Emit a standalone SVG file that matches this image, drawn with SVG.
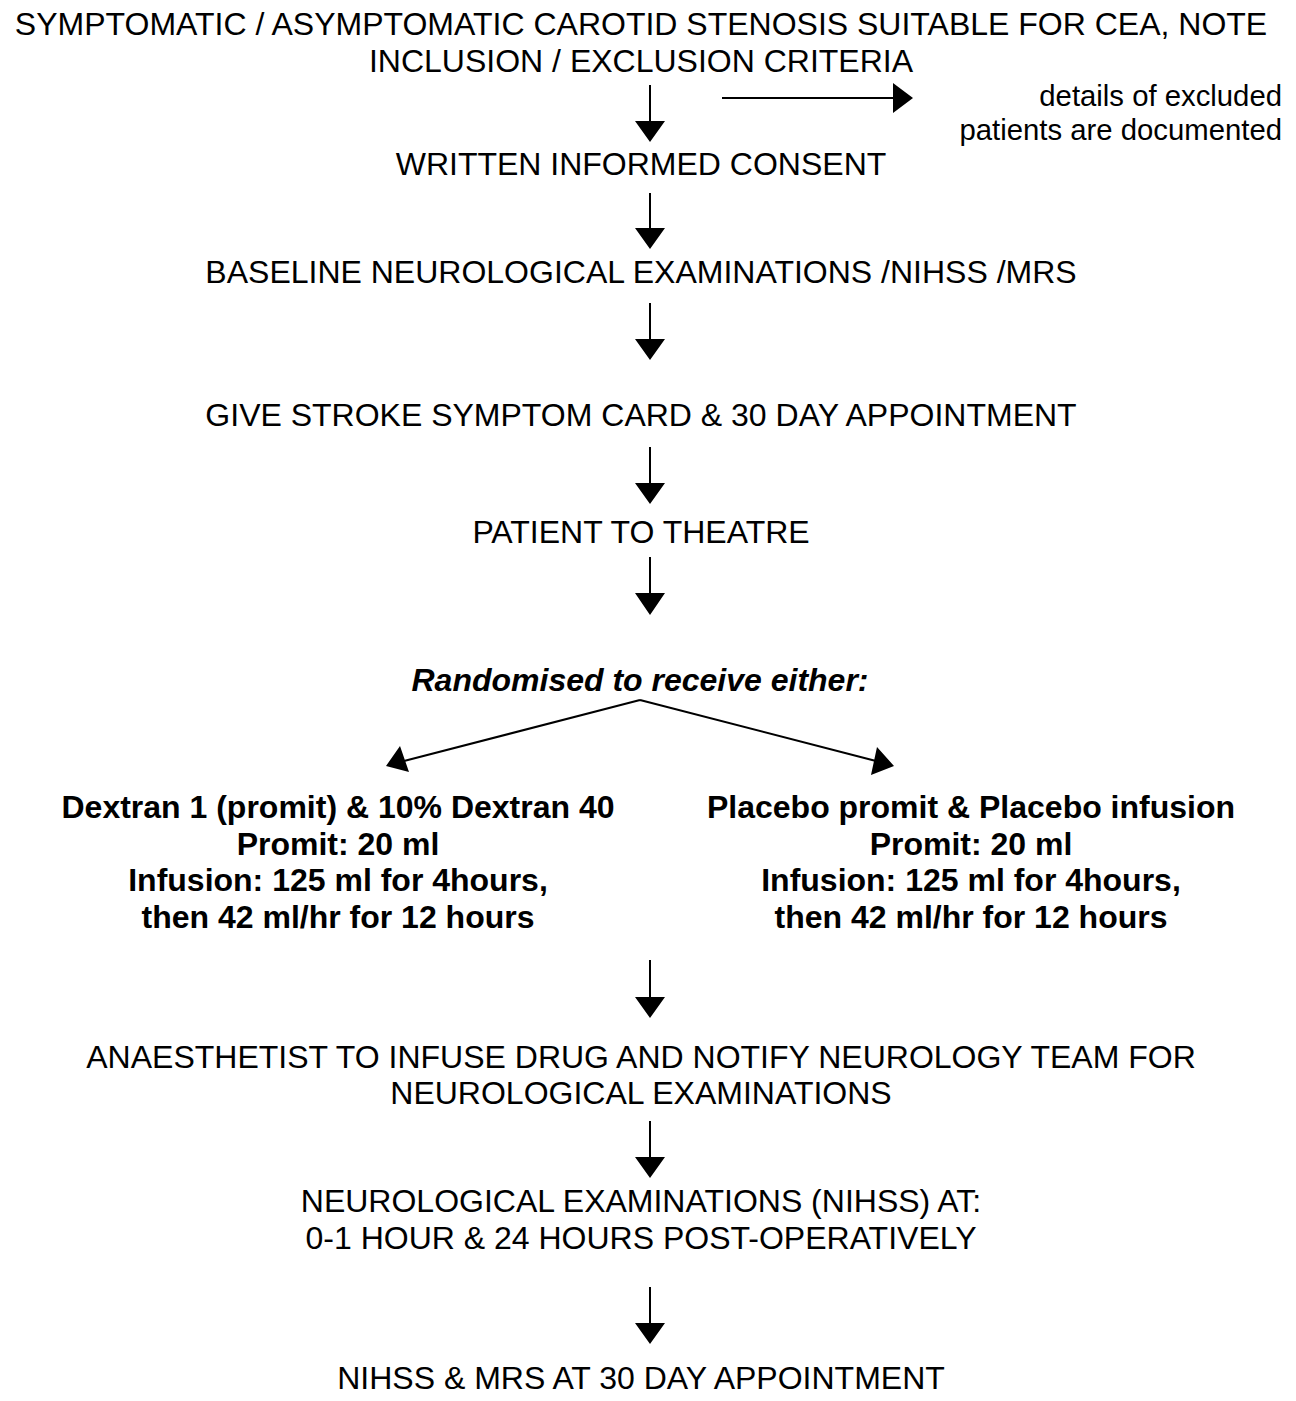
<svg xmlns="http://www.w3.org/2000/svg" width="1296" height="1401" viewBox="0 0 1296 1401">
<style>
text{font-family:"Liberation Sans",Arial,sans-serif;font-size:32px;fill:#000}
.c{text-anchor:middle}
.b{font-weight:bold}
.bi{font-weight:bold;font-style:italic}
.r{text-anchor:end;font-size:29.3px}
.ln{stroke:#000;stroke-width:2;fill:none}
.hd{fill:#000}
</style>
<rect width="1296" height="1401" fill="#fff"/>
<g id="n1"><text class="c" x="641" y="35">SYMPTOMATIC / ASYMPTOMATIC CAROTID STENOSIS SUITABLE FOR CEA, NOTE</text><text class="c" x="641" y="71.7">INCLUSION / EXCLUSION CRITERIA</text></g>
<g id="n_excl"><text class="r" x="1282" y="106">details of excluded</text><text class="r" x="1282" y="140">patients are documented</text></g>
<g id="n2"><text class="c" x="641" y="175">WRITTEN INFORMED CONSENT</text></g>
<g id="n3"><text class="c" x="641" y="283">BASELINE NEUROLOGICAL EXAMINATIONS /NIHSS /MRS</text></g>
<g id="n4"><text class="c" x="641" y="426">GIVE STROKE SYMPTOM CARD &amp; 30 DAY APPOINTMENT</text></g>
<g id="n5"><text class="c" x="641" y="543">PATIENT TO THEATRE</text></g>
<g id="n6"><text class="c bi" x="640" y="691">Randomised to receive either:</text></g>
<g id="n7"><text class="c b" x="338" y="818">Dextran 1 (promit) &amp; 10% Dextran 40</text><text class="c b" x="338" y="854.5">Promit: 20 ml</text><text class="c b" x="338" y="891">Infusion: 125 ml for 4hours,</text><text class="c b" x="338" y="927.5">then 42 ml/hr for 12 hours</text></g>
<g id="n8"><text class="c b" x="971" y="818">Placebo promit &amp; Placebo infusion</text><text class="c b" x="971" y="854.5">Promit: 20 ml</text><text class="c b" x="971" y="891">Infusion: 125 ml for 4hours,</text><text class="c b" x="971" y="927.5">then 42 ml/hr for 12 hours</text></g>
<g id="n9"><text class="c" x="641" y="1068">ANAESTHETIST TO INFUSE DRUG AND NOTIFY NEUROLOGY TEAM FOR</text><text class="c" x="641" y="1104">NEUROLOGICAL EXAMINATIONS</text></g>
<g id="n10"><text class="c" x="641" y="1212">NEUROLOGICAL EXAMINATIONS (NIHSS) AT:</text><text class="c" x="641" y="1249">0-1 HOUR &amp; 24 HOURS POST-OPERATIVELY</text></g>
<g id="n11"><text class="c" x="641" y="1389">NIHSS &amp; MRS AT 30 DAY APPOINTMENT</text></g>
<g id="connectors">
<path class="ln" d="M650 85V122M650 193V229M650 303V340M650 447V484M650 557V594M650 960V998M650 1121V1158M650 1287V1324M722 98H894M640 700L404 761M640 700L876 761"/>
<path class="hd" d="M635 121H665L650 142ZM635 228H665L650 249ZM635 339H665L650 360ZM635 483H665L650 504ZM635 593H665L650 615ZM635 997H665L650 1018ZM635 1157H665L650 1178ZM635 1323H665L650 1344ZM893 83V113L913 98ZM386 766L400 746L409 772ZM894 766L877 747L871 775Z"/>
</g>
</svg>
